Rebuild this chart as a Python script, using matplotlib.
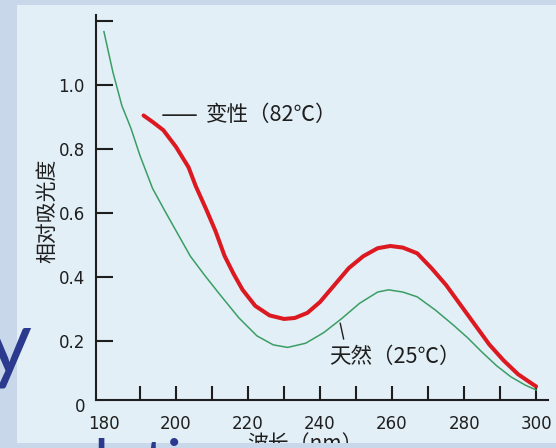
import numpy as np
import matplotlib
matplotlib.use("Agg")
import matplotlib.pyplot as plt
from matplotlib.patches import Rectangle

# 波长 (nm) 和相对吸光度
x_native = [180, 182.5, 185, 187.5, 190, 193.5, 197, 201, 204, 208, 212, 217.5, 222.5,
            227, 231, 236, 241, 246, 251, 256, 259, 263, 267, 272, 277, 281, 285, 289,
            293, 297, 300]
y_native = [1.167, 1.04, 0.935, 0.865, 0.78, 0.677, 0.605, 0.525, 0.465, 0.405, 0.348,
            0.272, 0.216, 0.188, 0.180, 0.193, 0.226, 0.27, 0.318, 0.353, 0.36, 0.353,
            0.338, 0.297, 0.25, 0.21, 0.165, 0.123, 0.088, 0.062, 0.047]

x_denat = [191, 193.5, 196.5, 200, 203.5, 205.5, 208.5, 211, 213.5, 216, 218.5, 222, 226,
           230, 233, 236.5, 240, 244, 248, 252, 256, 259.5, 263, 267, 271, 275, 279, 283,
           287, 291, 295, 298, 300]
y_denat = [0.905, 0.885, 0.859, 0.807, 0.743, 0.684, 0.609, 0.543, 0.466, 0.41, 0.36,
           0.31, 0.28, 0.269, 0.272, 0.288, 0.322, 0.375, 0.428, 0.465, 0.49, 0.497,
           0.492, 0.474, 0.427, 0.375, 0.313, 0.251, 0.189, 0.139, 0.096, 0.073, 0.058]

xticks = np.arange(180, 301, 10)
xlabels = [str(v) if v % 20 == 0 else "" for v in xticks]
yticks = [0, 0.2, 0.4, 0.6, 0.8, 1.0, 1.2]
ylabels = ["0", "0.2", "0.4", "0.6", "0.8", "1.0", ""]

cjk = ["Noto Sans CJK SC", "DejaVu Sans"]
slide_bg = "#c8d8ea"
photo_bg = "#e2eff6"
ink = "#1e1e1e"
slide_blue = "#2b3a8e"

W, H = 556, 448
fig = plt.figure(figsize=(W / 100, H / 100), dpi=100)
fig.patch.set_facecolor(slide_bg)
# heller Hintergrund vom eingescannten Bild
fig.patches.append(Rectangle((17 / W, 5 / H), 1 - 17 / W, (443 - 5) / H,
                             transform=fig.transFigure, facecolor=photo_bg,
                             edgecolor="none", zorder=-5))

ax = fig.add_axes([96 / W, 1 - 405 / H, 452 / W, 390 / H])
ax.set_facecolor("none")
ax.set_xlim(177.8, 303.3)
ax.set_ylim(0, 1.219)

ax.plot(x_native, y_native, color="#3a9e64", lw=1.1, solid_joinstyle="round")
ax.plot(x_denat, y_denat, color="#dc1820", lw=2.9, solid_joinstyle="round",
        solid_capstyle="round")

# Achsen
axis_y = 5 / 320
for s in ["top", "right"]:
    ax.spines[s].set_visible(False)
ax.spines["bottom"].set_position(("data", axis_y))
ax.spines["left"].set_bounds(axis_y, 1.219)
for s in ["left", "bottom"]:
    ax.spines[s].set_linewidth(1.5)
    ax.spines[s].set_color(ink)

ax.set_xticks(xticks)
ax.set_xticklabels(xlabels)
ax.set_yticks(yticks)
ax.set_yticklabels(ylabels)
ax.tick_params(axis="x", direction="in", length=10, width=1.5, pad=10.5,
               labelsize=12, colors=ink)
ax.tick_params(axis="y", direction="in", length=12, width=1.5, pad=8,
               labelsize=12, colors=ink)
ax.xaxis.get_major_ticks()[0].tick1line.set_visible(False)
ax.yaxis.get_major_ticks()[0].tick1line.set_visible(False)

ax.annotate("变性（82℃）", xy=(196.4, 0.906), xytext=(208.3, 0.906),
            ha="left", va="center", fontsize=15.5, family=cjk, color=ink,
            arrowprops=dict(arrowstyle="-", lw=1.2, color=ink, relpos=(0, 0.5),
                            shrinkA=5, shrinkB=0))
ax.annotate("天然（25℃）", xy=(245.6, 0.256), xytext=(242.6, 0.15),
            ha="left", va="center", fontsize=15.5, family=cjk, color=ink,
            arrowprops=dict(arrowstyle="-", lw=1.0, color=ink, relpos=(0.12, 1.0),
                            shrinkA=3, shrinkB=0))

fig.text(47 / W, 1 - 211 / H, "相对吸光度", rotation=90, ha="center", va="center",
         fontsize=15, family=cjk, color=ink)
fig.text(305 / W, 1 - 433 / H, "波长（nm）", ha="center", va="top",
         fontsize=15, family=cjk, color=ink)

# unterer Rand der Folie deckt die Beschriftung teilweise ab
fig.patches.append(Rectangle((0, 0), 1, 5 / H, transform=fig.transFigure,
                             facecolor=slide_bg, edgecolor="none", zorder=10))

# Reste vom Folientext
fig.text(31 / W, 1 - 372 / H, "y", ha="right", va="baseline", fontsize=64,
         family="Lato", color=slide_blue, zorder=11)
fig.text(93 / W, 1 - 484 / H, "lution", ha="left", va="baseline", fontsize=46,
         family="Lato", color=slide_blue, zorder=11)

fig.savefig("out.png", dpi=100, facecolor=fig.get_facecolor())
